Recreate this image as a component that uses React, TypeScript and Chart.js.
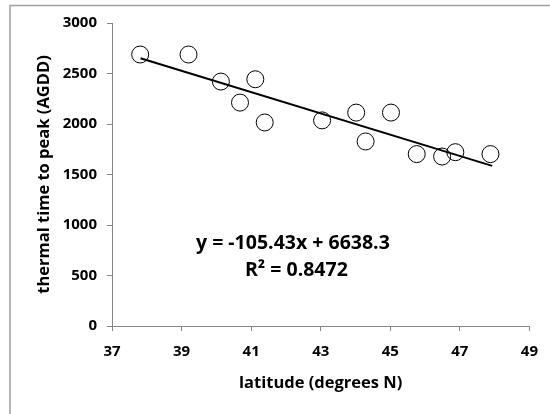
import React, { useEffect, useRef } from "react";
import { Chart, registerables } from "chart.js";

Chart.register(...registerables);

const latitude = [37.81, 39.2, 40.13, 41.12, 40.68, 41.39, 43.04, 44.02, 44.29, 45.02, 45.76, 46.49, 46.87, 47.88];
const thermalTime = [2688, 2688, 2420, 2443, 2212, 2015, 2036, 2113, 1827, 2113, 1702, 1678, 1721, 1702];
const trendX = [37.82, 47.93];
const trendY = [2651, 1585];
const equationText = "y = -105.43x + 6638.3";
const r2Text = "R² = 0.8472";
const xTitle = "latitude (degrees N)";
const yTitle = "thermal time to peak (AGDD)";

const FONT = "'Open Sans', Lato, sans-serif";

export default function App() {
  const ref = useRef<HTMLCanvasElement | null>(null);
  useEffect(() => {
    if (!ref.current) return;
    const borderPlugin = {
      id: "outerBorder",
      beforeDraw(chart: any) {
        const ctx = chart.ctx;
        ctx.save();
        ctx.fillStyle = "#ffffff";
        ctx.fillRect(0, 0, chart.width, chart.height);
        ctx.strokeStyle = "#a0a0a0";
        ctx.lineWidth = 1.5;
        ctx.beginPath();
        ctx.moveTo(10, chart.height + 2);
        ctx.lineTo(10, 5.5);
        ctx.lineTo(chart.width + 2, 5.5);
        ctx.stroke();
        ctx.restore();
      },
    };
    const eqPlugin = {
      id: "equation",
      afterDraw(chart: any) {
        const ctx = chart.ctx;
        const xs = chart.scales.x;
        const ys = chart.scales.y;
        ctx.save();
        ctx.fillStyle = "#000";
        ctx.textAlign = "center";
        ctx.textBaseline = "middle";
        ctx.font = `bold 19.5px ${FONT}`;
        ctx.fillText(equationText, xs.getPixelForValue(42.2), ys.getPixelForValue(815));
        ctx.fillText(r2Text, xs.getPixelForValue(42.3), ys.getPixelForValue(550));
        ctx.restore();
      },
    };
    const tickFont = { family: FONT, size: 15, weight: "bold" as const };
    const titleFont = { family: FONT, size: 16.5, weight: "bold" as const };
    const chart = new Chart(ref.current, {
      type: "scatter",
      data: {
        datasets: [
          {
            type: "line",
            data: trendX.map((x, i) => ({ x, y: trendY[i] })),
            borderColor: "#000",
            borderWidth: 2,
            pointRadius: 0,
            fill: false,
          } as any,
          {
            data: latitude.map((x, i) => ({ x, y: thermalTime[i] })),
            pointRadius: 8.5,
            pointHoverRadius: 8.5,
            pointBorderColor: "#000",
            pointBackgroundColor: "rgba(0,0,0,0)",
            pointBorderWidth: 1,
            borderColor: "#000",
            backgroundColor: "rgba(0,0,0,0)",
          },
        ],
      },
      options: {
        animation: false,
        responsive: false,
        devicePixelRatio: 1,
        layout: { padding: { top: 23, right: 14, left: 0, bottom: 0 } },
        plugins: { legend: { display: false }, tooltip: { enabled: false } },
        scales: {
          x: {
            type: "linear",
            min: 37,
            max: 49,
            ticks: {
              stepSize: 2,
              color: "#000",
              padding: 12,
              font: tickFont,
              callback: (v: any) => String(v),
            },
            grid: { drawOnChartArea: false, drawTicks: true, tickLength: 5, color: "#868686" },
            border: { color: "#868686", width: 1 },
            title: {
              display: true,
              text: xTitle,
              color: "#000",
              font: titleFont,
              padding: { top: 0, bottom: 21 },
            },
            afterFit(scale: any) {
              scale.height = 88;
            },
          },
          y: {
            min: 0,
            max: 3000,
            ticks: {
              stepSize: 500,
              color: "#000",
              padding: 10,
              font: tickFont,
              callback: (v: any) => String(v),
            },
            grid: { drawOnChartArea: false, drawTicks: true, tickLength: 5, color: "#868686" },
            border: { color: "#868686", width: 1 },
            title: {
              display: true,
              text: yTitle,
              color: "#000",
              font: titleFont,
              padding: { top: 34, bottom: 0 },
            },
            afterFit(scale: any) {
              scale.width = 112;
            },
          },
        },
      },
      plugins: [borderPlugin, eqPlugin],
    });
    return () => chart.destroy();
  }, []);
  return (
    <div style={{ position: "fixed", left: 0, top: 0, width: 550, height: 414, background: "#fff" }}>
      <canvas ref={ref} width={550} height={414} style={{ width: 550, height: 414, display: "block" }} />
    </div>
  );
}
